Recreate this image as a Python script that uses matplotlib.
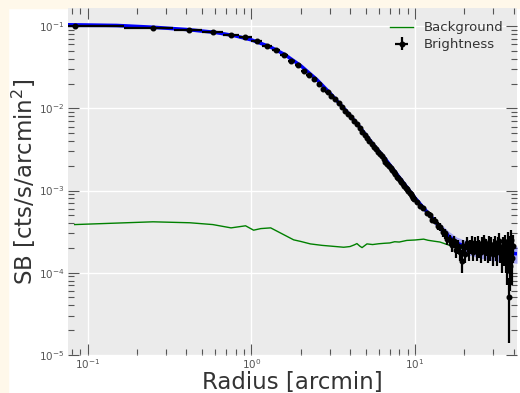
import numpy as np
import matplotlib
matplotlib.use("Agg")
import matplotlib.pyplot as plt
from matplotlib.patches import Rectangle

# surface brightness profile, inner bins (1/6 arcmin wide)
r_inner = [0.083, 0.25, 0.417, 0.583, 0.75, 0.917, 1.083, 1.25, 1.417, 1.583,
           1.75, 1.917, 2.083, 2.25, 2.417, 2.583, 2.75, 2.917, 3.083, 3.25,
           3.417, 3.583, 3.75, 3.917, 4.083, 4.25, 4.417, 4.583, 4.75, 4.917,
           5.083, 5.25, 5.417, 5.583, 5.75, 5.917, 6.083, 6.25, 6.417, 6.583,
           6.75, 6.917, 7.083, 7.25, 7.417, 7.583, 7.75, 7.917, 8.083, 8.25,
           8.417, 8.583, 8.75, 8.917, 9.083, 9.25, 9.417, 9.583, 9.75, 9.917]
sb_inner = [0.100, 0.095, 0.089, 0.084, 0.079, 0.073, 0.066, 0.058, 0.051, 0.044,
            0.0377, 0.0333, 0.0282, 0.0257, 0.0227, 0.0198, 0.0174, 0.0156, 0.0142, 0.0129,
            0.0117, 0.0105, 0.0094, 0.0086, 0.0078, 0.0071, 0.0064, 0.0058, 0.0052, 0.0048,
            0.0044, 0.0040, 0.0037, 0.0034, 0.0032, 0.0029, 0.0028, 0.0026, 0.0024, 0.0022,
            0.0021, 0.0020, 0.00186, 0.00176, 0.00166, 0.00157, 0.00148, 0.00141, 0.00134, 0.00127,
            0.00120, 0.00114, 0.00108, 0.00103, 0.00098, 0.00094, 0.00090, 0.00086, 0.00082, 0.00079]
err_inner = [0.003, 0.002, 0.0018, 0.0016, 0.0015, 0.0014, 0.0013, 0.0012, 0.0011, 0.001,
             0.0009, 0.0008, 0.0007, 0.0007, 0.0006, 0.0006, 0.0005, 0.0005, 0.0005, 0.0004,
             0.0004, 0.0004, 0.0003, 0.0003, 0.0003, 0.0003, 0.00025, 0.00025, 0.00022, 0.0002,
             0.0002, 0.00018, 0.00017, 0.00016, 0.00015, 0.00014, 0.00013, 0.00013, 0.00012, 0.00011,
             0.00011, 0.0001, 0.0001, 9e-5, 9e-5, 8e-5, 8e-5, 7e-5, 7e-5, 7e-5,
             6e-5, 6e-5, 6e-5, 6e-5, 5e-5, 5e-5, 5e-5, 5e-5, 5e-5, 5e-5]

# outer bins (1/2 arcmin wide)
r_outer = [10.25, 10.75, 11.25, 11.75, 12.25, 12.75, 13.25, 13.75, 14.25, 14.75,
           15.25, 15.75, 16.25, 16.75, 17.25, 17.75, 18.25, 18.75, 19.25, 19.75,
           20.25, 20.75, 21.25, 21.75, 22.25, 22.75, 23.25, 23.75, 24.25, 24.75,
           25.25, 25.75, 26.25, 26.75, 27.25, 27.75, 28.25, 28.75, 29.25, 29.75,
           30.25, 30.75, 31.25, 31.75, 32.25, 32.75, 33.25, 33.75, 34.25, 34.75,
           35.25, 35.75, 36.25, 36.75, 37.25, 37.75, 38.25, 38.75, 39.25, 39.75]
sb_outer = [7.2e-4, 6.5e-4, 6.1e-4, 5.3e-4, 5.0e-4, 4.4e-4, 4.3e-4, 3.7e-4, 3.6e-4, 3.1e-4,
            3.0e-4, 2.6e-4, 2.5e-4, 2.2e-4, 2.4e-4, 1.9e-4, 2.1e-4, 1.8e-4, 1.4e-4, 2.1e-4,
            1.7e-4, 2.3e-4, 1.9e-4, 2.1e-4, 2.3e-4, 1.8e-4, 2.2e-4, 1.9e-4, 2.3e-4, 2.0e-4,
            1.8e-4, 2.2e-4, 2.4e-4, 1.9e-4, 2.1e-4, 1.8e-4, 2.3e-4, 1.9e-4, 2.2e-4, 1.7e-4,
            2.1e-4, 2.3e-4, 1.9e-4, 1.8e-4, 2.2e-4, 2.4e-4, 1.9e-4, 1.6e-4, 2.1e-4, 1.8e-4,
            2.3e-4, 1.7e-4, 1.3e-4, 2.4e-4, 5.0e-5, 1.9e-4, 1.2e-4, 2.5e-4, 1.5e-4, 2.1e-4]
err_outer = [4e-5, 4e-5, 4e-5, 4e-5, 4e-5, 4e-5, 4e-5, 4e-5, 4e-5, 4e-5,
             4e-5, 4e-5, 4e-5, 4e-5, 4e-5, 4e-5, 4e-5, 4e-5, 4e-5, 4e-5,
             4e-5, 4e-5, 5e-5, 4e-5, 5e-5, 4e-5, 5e-5, 5e-5, 5e-5, 5e-5,
             5e-5, 5e-5, 5e-5, 5e-5, 5e-5, 5e-5, 5e-5, 5e-5, 5e-5, 5e-5,
             5e-5, 5e-5, 5e-5, 6e-5, 5e-5, 6e-5, 6e-5, 6e-5, 6e-5, 6e-5,
             6e-5, 7e-5, 6e-5, 7e-5, 3.6e-5, 9e-5, 6e-5, 8e-5, 8e-5, 8e-5]
half_inner = 0.0833
half_outer = 0.25

# background profile
r_bkg = [0.083, 0.25, 0.42, 0.58, 0.75, 0.92, 1.03, 1.14, 1.31, 1.5,
         1.81, 2.0, 2.29, 2.7, 3.1, 3.66, 4.0, 4.25, 4.41, 4.6, 4.74,
         5.08, 5.5, 6.0, 6.5, 7.0, 7.5, 8.0, 8.9, 10.0, 11.27,
         12.0, 13.0, 14.2, 15.2, 16.4, 18.0, 20.0, 25.0, 30.0, 35.0, 40.0]
sb_bkg = [3.85e-4, 4.16e-4, 4.05e-4, 3.85e-4, 3.51e-4, 3.72e-4, 3.29e-4, 3.44e-4, 3.51e-4, 3.05e-4,
          2.51e-4, 2.4e-4, 2.24e-4, 2.15e-4, 2.1e-4, 2.04e-4, 2.08e-4, 2.18e-4, 2.26e-4, 2.1e-4, 2.02e-4,
          2.24e-4, 2.2e-4, 2.25e-4, 2.28e-4, 2.3e-4, 2.38e-4, 2.36e-4, 2.47e-4, 2.5e-4, 2.56e-4,
          2.48e-4, 2.42e-4, 2.36e-4, 2.25e-4, 2.14e-4, 2.02e-4, 1.96e-4, 1.9e-4, 1.85e-4, 1.8e-4, 1.78e-4]

# best-fit model with uncertainty
r_model = [0.075, 0.15, 0.25, 0.4, 0.6, 0.8, 1.0, 1.3, 1.6, 2.0,
           2.5, 3.0, 3.7, 4.5, 5.5, 6.5, 8.0, 10.0, 12.0, 14.0,
           16.0, 18.0, 20.0, 25.0, 30.0, 35.0, 42.0]
sb_model = [0.104, 0.102, 0.097, 0.091, 0.084, 0.076, 0.068, 0.056, 0.045, 0.033,
            0.0225, 0.0155, 0.0098, 0.0062, 0.0037, 0.0025, 0.00145, 0.00081, 0.00053, 0.00037,
            0.00028, 0.00023, 0.00021, 0.00019, 0.00018, 0.000175, 0.00017]
model_err = [0.006, 0.005, 0.004, 0.003, 0.003, 0.002, 0.002, 0.0015, 0.0012, 0.0009,
             0.0006, 0.0004, 0.00025, 0.00015, 0.0001, 7e-5, 5e-5, 4e-5, 4e-5, 4e-5,
             4e-5, 4e-5, 4e-5, 4e-5, 4e-5, 4e-5, 4e-5]

r = np.array(r_inner + r_outer)
sb = np.array(sb_inner + sb_outer)
sb_err = np.array(err_inner + err_outer)
r_err = np.concatenate([np.full(len(r_inner), half_inner), np.full(len(r_outer), half_outer)])

fig = plt.figure(figsize=(5.2, 3.93), dpi=100, facecolor="white")
ax = fig.add_axes([0.131, 0.097, 0.863, 0.882])
ax.set_facecolor("#ebebeb")
for s in ax.spines.values():
    s.set_visible(False)

m = np.array(sb_model)
me = np.array(model_err)
ax.fill_between(r_model, m - me, m + me, color="blue", alpha=0.3, lw=0, zorder=2)
ax.plot(r_model, sb_model, color="blue", lw=2.5, zorder=2)

ax.plot(r_bkg, sb_bkg, color="green", lw=1, label="Background", zorder=3)
ax.errorbar(r, sb, xerr=r_err, yerr=sb_err, fmt="o", color="black", ms=3.3,
            elinewidth=1.6, capsize=0, label="Brightness", zorder=4)

ax.set_xscale("log")
ax.set_yscale("log")
ax.set_xlim(0.0757, 41.9)
ax.set_ylim(1e-5, 0.165)

ax.grid(True, which="major", color="white", lw=1)
ax.set_axisbelow(True)
ax.tick_params(which="both", direction="in", top=True, right=True,
               colors="#555555", labelsize=7.5, width=0.8)
ax.tick_params(which="major", length=8)
ax.tick_params(which="minor", length=4)
ax.tick_params(axis="x", which="both", pad=2)
ax.tick_params(axis="y", which="both", pad=2.5)

ax.set_xlabel("Radius [arcmin]", fontsize=16.5, color="#333333", labelpad=0)
ax.set_ylabel("SB [cts/s/arcmin$^2$]", fontsize=16.5, color="#333333", labelpad=1)

leg = ax.legend(loc="upper right", frameon=False, fontsize=9.5,
                handlelength=1.8, borderaxespad=0.6, labelspacing=0.3)
for t in leg.get_texts():
    t.set_color("#333333")

# cream page strip along the top and left edge
fig.patches.append(Rectangle((0, 1 - 8 / 393), 1, 8 / 393, transform=fig.transFigure,
                             color="#fff8ea", zorder=-1))
fig.patches.append(Rectangle((0, 0), 8 / 520, 1, transform=fig.transFigure,
                             color="#fff8ea", zorder=-1))

fig.savefig("out.png", dpi=100, facecolor=fig.get_facecolor())
